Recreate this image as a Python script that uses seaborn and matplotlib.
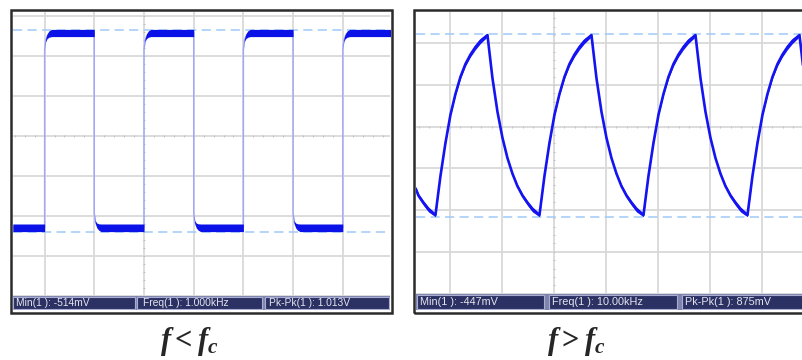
import numpy as np
import matplotlib
matplotlib.use("Agg")
import matplotlib.pyplot as plt
from matplotlib.patches import Rectangle
import seaborn as sns

# ---- values read off the two scope screens ----
# left screen: 1 kHz square wave, time in ms, volts, half width of the noise band
sq_t = [-1.32,
        -1.0, -1.0, -0.99, -0.975, -0.955, -0.93,
        -0.5, -0.5, -0.49, -0.475, -0.455, -0.43,
        0.0, 0.0, 0.01, 0.025, 0.045, 0.07,
        0.5, 0.5, 0.51, 0.525, 0.545, 0.57,
        1.0, 1.0, 1.01, 1.025, 1.045, 1.07,
        1.5, 1.5, 1.51, 1.525, 1.545, 1.57,
        2.0, 2.0, 2.01, 2.025, 2.045, 2.07,
        2.48]
sq_v = [-0.492,
        -0.492, 0.40, 0.445, 0.466, 0.477, 0.482,
        0.482, -0.42, -0.462, -0.480, -0.488, -0.492,
        -0.492, 0.40, 0.445, 0.466, 0.477, 0.482,
        0.482, -0.42, -0.462, -0.480, -0.488, -0.492,
        -0.492, 0.40, 0.445, 0.466, 0.477, 0.482,
        0.482, -0.42, -0.462, -0.480, -0.488, -0.492,
        -0.492, 0.40, 0.445, 0.466, 0.477, 0.482,
        0.482]
sq_noise = [0.019,
            0.019, 0.0, 0.006, 0.012, 0.016, 0.018,
            0.018, 0.0, 0.006, 0.012, 0.016, 0.019,
            0.019, 0.0, 0.006, 0.012, 0.016, 0.018,
            0.018, 0.0, 0.006, 0.012, 0.016, 0.019,
            0.019, 0.0, 0.006, 0.012, 0.016, 0.018,
            0.018, 0.0, 0.006, 0.012, 0.016, 0.019,
            0.019, 0.0, 0.006, 0.012, 0.016, 0.018,
            0.018]
sq_max, sq_min = 0.499, -0.514

# right screen: 10 kHz, time in us
rc_t = [-133.0, -130.3, -125.5, -120.7, -114.0,
        -109.2, -104.4, -99.6, -94.8, -90.0, -85.2, -80.3, -75.5, -70.7, -64.0,
        -59.2, -54.4, -49.6, -44.8, -40.0, -35.2, -30.3, -25.5, -20.7, -14.0,
        -9.2, -4.4, 0.4, 5.2, 10.0, 14.8, 19.7, 24.5, 29.3, 36.0,
        40.8, 45.6, 50.4, 55.2, 60.0, 64.8, 69.7, 74.5, 79.3, 86.0,
        90.8, 95.6, 100.4, 105.2, 110.0, 114.8, 119.7, 124.5, 129.3, 136.0,
        140.8, 145.6, 150.4, 155.2, 160.0, 164.8, 169.7, 174.5, 179.3, 186.0,
        190.8, 195.6, 200.4, 205.2, 210.0, 214.8, 219.7, 224.5, 229.3, 236.0,
        240.8, 245.6, 250.4]
rc_v = [-0.312, -0.346, -0.381, -0.412, -0.439,
        -0.252, -0.094, 0.041, 0.141, 0.223, 0.285, 0.331, 0.367, 0.396, 0.424,
        0.218, 0.057, -0.068, -0.165, -0.240, -0.300, -0.346, -0.381, -0.412, -0.439,
        -0.252, -0.094, 0.041, 0.141, 0.223, 0.285, 0.331, 0.367, 0.396, 0.424,
        0.218, 0.057, -0.068, -0.165, -0.240, -0.300, -0.346, -0.381, -0.412, -0.439,
        -0.252, -0.094, 0.041, 0.141, 0.223, 0.285, 0.331, 0.367, 0.396, 0.424,
        0.218, 0.057, -0.068, -0.165, -0.240, -0.300, -0.346, -0.381, -0.412, -0.439,
        -0.252, -0.094, 0.041, 0.141, 0.223, 0.285, 0.331, 0.367, 0.396, 0.424,
        0.218, 0.057, -0.068]
rc_noise = [0.008, 0.010, 0.011, 0.012, 0.008,
            0.002, 0.003, 0.004, 0.006, 0.008, 0.010, 0.011, 0.012, 0.012, 0.008,
            0.002, 0.002, 0.003, 0.004, 0.006, 0.008, 0.010, 0.011, 0.012, 0.008,
            0.002, 0.003, 0.004, 0.006, 0.008, 0.010, 0.011, 0.012, 0.012, 0.008,
            0.002, 0.002, 0.003, 0.004, 0.006, 0.008, 0.010, 0.011, 0.012, 0.008,
            0.002, 0.003, 0.004, 0.006, 0.008, 0.010, 0.011, 0.012, 0.012, 0.008,
            0.002, 0.002, 0.003, 0.004, 0.006, 0.008, 0.010, 0.011, 0.012, 0.008,
            0.002, 0.003, 0.004, 0.006, 0.008, 0.010, 0.011, 0.012, 0.012, 0.008,
            0.002, 0.002, 0.003]
rc_max, rc_min = 0.428, -0.447

left_readout = ["Min(1 ): -514mV", "Freq(1 ): 1.000kHz", "Pk-Pk(1 ): 1.013V"]
right_readout = ["Min(1 ): -447mV", "Freq(1 ): 10.00kHz", "Pk-Pk(1 ): 875mV"]
captions = ["$f{<}f_c$", "$f{>}f_c$"]

# ---- style ----
sns.set_theme(style="white")
plt.rcParams["font.family"] = ["Liberation Sans", "DejaVu Sans"]
plt.rcParams["mathtext.fontset"] = "custom"
plt.rcParams["mathtext.it"] = "Liberation Serif:italic:bold"
plt.rcParams["mathtext.rm"] = "Liberation Serif:bold"
plt.rcParams["mathtext.bf"] = "Liberation Serif:bold"

GRID = "#d9d9d9"
CURSOR = "#9fcaf7"
W, H = 803, 360
fig = plt.figure(figsize=(W / 100, H / 100), dpi=100)


def px_axes(x0, y0, x1, y1):
    return fig.add_axes([x0 / W, 1 - y1 / H, (x1 - x0) / W, (y1 - y0) / H])


def clean(ax):
    ax.set_xticks([])
    ax.set_yticks([])
    ax.set_xlabel("")
    ax.set_ylabel("")
    for s in ax.spines.values():
        s.set_visible(False)


def graticule(ax, xlim, ylim, xstep, ystep, xc, yc):
    ax.set_xlim(*xlim)
    ax.set_ylim(*ylim)
    k = np.arange(-10, 11)
    for x in xc + xstep * k:
        ax.axvline(x, color=GRID, lw=1.3, zorder=1)
    for y in yc + ystep * k:
        ax.axhline(y, color=GRID, lw=1.3, zorder=1)
    k5 = np.arange(-50, 51)
    ax.plot(xc + xstep / 5 * k5, np.full(k5.size, yc), ls="none", marker="|",
            ms=1.8, mew=0.7, color="#c2c2c2", zorder=1.5)
    ax.plot(np.full(k5.size, xc), yc + ystep / 5 * k5, ls="none", marker="_",
            ms=1.8, mew=0.7, color="#c2c2c2", zorder=1.5)


def readout(x0, y0, x1, y1, boxes, texts, tx, size):
    ax = px_axes(x0, y0, x1, y1)
    ax.set_xlim(0, x1 - x0)
    ax.set_ylim(0, 1)
    ax.set_facecolor("#7f84ad")
    clean(ax)
    for (b0, b1), s, t in zip(boxes, texts, tx):
        ax.add_patch(Rectangle((b0, 0.07), b1 - b0, 0.86, fc="#2c3163",
                               ec="#a9acd3", lw=0.8))
        ax.text(t, 0.5, s, color="#e4e4ee", fontsize=size, va="center", ha="left")


# ---- left screen ----
axl = px_axes(13, 12, 390, 296)
graticule(axl, (-1.318, 2.475), (-0.833, 0.587), 0.5, 0.2, 0.0, -0.033)
for lv in (sq_max, sq_min):
    axl.axhline(lv, color=CURSOR, lw=1.1, dashes=(6, 3.5), zorder=2)
sns.lineplot(x=sq_t, y=sq_v, sort=False, estimator=None, color="#a2a6fb",
             lw=1.0, ax=axl, zorder=3)
sv, sn = np.array(sq_v), np.array(sq_noise)
axl.fill_between(sq_t, sv - sn, sv + sn, color="#0b12e8", lw=0, zorder=4)
clean(axl)

readout(13, 296, 390, 310, [(0, 122), (124, 249), (252, 376)], left_readout,
        [3, 130, 256], 7.4)

# ---- right screen ----
axr = px_axes(416, 12, 808, 294)
graticule(axr, (-132.7, 244.2), (-0.8177, 0.5348), 50, 0.2, 0.0, -0.0154)
for lv in (rc_max, rc_min):
    axr.axhline(lv, color=CURSOR, lw=1.1, dashes=(6, 3.5), zorder=2)
sns.lineplot(x=rc_t, y=rc_v, sort=False, estimator=None, color="#1414f2",
             lw=1.9, ax=axr, zorder=3)
rv, rn = np.array(rc_v), np.array(rc_noise)
axr.fill_between(rc_t, rv - rn, rv + rn, color="#1414f2", lw=0, zorder=4)
clean(axr)

readout(416, 294, 808, 310, [(1, 128), (133, 261), (266, 400)], right_readout,
        [4, 136, 269], 7.85)

# dark frames round both screens
for x0, x1 in ((11, 392), (414, 812)):
    fig.add_artist(Rectangle((x0 / W, 1 - 313 / H), (x1 - x0) / W, 303 / H,
                             transform=fig.transFigure, fill=False,
                             ec="#2b2b2b", lw=1.8))

fig.text(189 / W, 1 - 342 / H, captions[0], ha="center", va="center", fontsize=22)
fig.text(576 / W, 1 - 342 / H, captions[1], ha="center", va="center", fontsize=22)

fig.savefig("out.png", dpi=100)
